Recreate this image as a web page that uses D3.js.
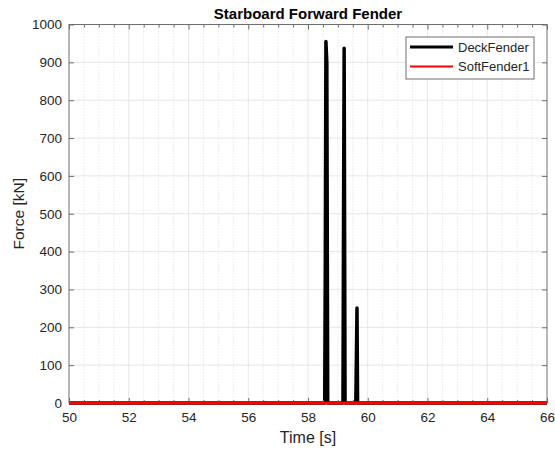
<!DOCTYPE html>
<html>
<head>
<meta charset="utf-8">
<script src="https://cdn.jsdelivr.net/npm/d3@7"></script>
<style>
  html, body { margin: 0; padding: 0; background: #fff; }
  svg { display: block; font-family: "Liberation Sans", Arial, Helvetica, sans-serif; }
</style>
</head>
<body>
<svg id="chart" width="555" height="451"></svg>
<script>
// Fender contact force traces
const deckTime  = [50, 58.56, 58.58, 58.60, 58.63, 58.66, 59.17, 59.19, 59.21, 59.24, 59.60, 59.62, 59.64, 59.66, 66];
const deckForce = [0,  0,     380,   955,   900,   0,     0,     500,   937,   0,     0,     120,   251,   0,     0];
const softTime  = [50, 66];
const softForce = [0, 0];

const xMajorTicks = [50, 52, 54, 56, 58, 60, 62, 64, 66];
const xMinorTicks = d3.range(50, 66.01, 0.5);
const yTicks = [0, 100, 200, 300, 400, 500, 600, 700, 800, 900, 1000];

const seriesNames = ["DeckFender", "SoftFender1"];
const seriesColors = ["#000000", "#ff0000"];

const W = 555, H = 451;
const m = { left: 69, right: 8, top: 24.5, bottom: 48 };
const iw = W - m.left - m.right, ih = H - m.top - m.bottom;

const svg = d3.select("#chart");
const g = svg.append("g").attr("transform", `translate(${m.left},${m.top})`);

const x = d3.scaleLinear().domain([50, 66]).range([0, iw]);
const y = d3.scaleLinear().domain([0, 1000]).range([ih, 0]);

const minorOnly = xMinorTicks.filter(t => !xMajorTicks.includes(t));

// grid: dotted minor lines every 0.5 s, solid major lines
g.append("g").selectAll("line").data(minorOnly)
  .join("line")
  .attr("x1", d => x(d)).attr("x2", d => x(d)).attr("y1", 0).attr("y2", ih)
  .attr("stroke", "#dcdcdc").attr("stroke-width", 1).attr("stroke-dasharray", "1,2");
g.append("g").selectAll("line").data(xMajorTicks.slice(1, -1))
  .join("line")
  .attr("x1", d => x(d)).attr("x2", d => x(d)).attr("y1", 0).attr("y2", ih)
  .attr("stroke", "#e6e6e6").attr("stroke-width", 1);
g.append("g").selectAll("line").data(yTicks.slice(1, -1))
  .join("line")
  .attr("x1", 0).attr("x2", iw).attr("y1", d => y(d)).attr("y2", d => y(d))
  .attr("stroke", "#e6e6e6").attr("stroke-width", 1);

// data lines
const line = d3.line().x(d => x(d[0])).y(d => y(d[1]));
g.append("path")
  .datum(deckTime.map((t, i) => [t, deckForce[i]]))
  .attr("d", line).attr("fill", "none")
  .attr("stroke", seriesColors[0]).attr("stroke-width", 3.5)
  .attr("stroke-linejoin", "round");

// axes with inward ticks
const axisColor = "#6e6e6e";
const labelColor = "#262626";
function styleAxis(sel) {
  sel.select(".domain").remove();
  sel.selectAll(".tick line").attr("stroke", axisColor);
  sel.selectAll(".tick text").attr("fill", labelColor).attr("font-size", "13.5px");
}
g.append("g").attr("transform", `translate(0,${ih})`)
  .call(d3.axisBottom(x).tickValues(xMajorTicks).tickFormat(d3.format("d")).tickSize(-5).tickPadding(9))
  .call(styleAxis);
g.append("g")
  .call(d3.axisTop(x).tickValues(xMajorTicks).tickFormat("").tickSize(-5))
  .call(styleAxis);
g.append("g").attr("transform", `translate(0,${ih})`)
  .call(d3.axisBottom(x).tickValues(minorOnly).tickFormat("").tickSize(-3))
  .call(styleAxis);
g.append("g")
  .call(d3.axisTop(x).tickValues(minorOnly).tickFormat("").tickSize(-3))
  .call(styleAxis);
g.append("g")
  .call(d3.axisLeft(y).tickValues(yTicks).tickFormat(d3.format("d")).tickSize(-5).tickPadding(7))
  .call(styleAxis);
g.append("g").attr("transform", `translate(${iw},0)`)
  .call(d3.axisRight(y).tickValues(yTicks).tickFormat("").tickSize(-5))
  .call(styleAxis);

// plot box
g.append("rect").attr("x", 0).attr("y", 0).attr("width", iw).attr("height", ih)
  .attr("fill", "none").attr("stroke", axisColor).attr("stroke-width", 1);

// red trace sits over the bottom edge
g.append("path")
  .datum(softTime.map((t, i) => [t, softForce[i]]))
  .attr("d", line).attr("fill", "none")
  .attr("stroke", seriesColors[1]).attr("stroke-width", 2.8);

// title and axis labels
svg.append("text").attr("x", m.left + iw / 2).attr("y", 19)
  .attr("text-anchor", "middle").attr("font-weight", "bold").attr("font-size", "15px")
  .attr("fill", "#000").text("Starboard Forward Fender");
svg.append("text").attr("x", m.left + iw / 2).attr("y", 443)
  .attr("text-anchor", "middle").attr("font-size", "16px").attr("fill", labelColor)
  .text("Time [s]");
svg.append("text")
  .attr("transform", `translate(24,${m.top + ih / 2}) rotate(-90)`)
  .attr("text-anchor", "middle").attr("font-size", "15.5px").attr("fill", labelColor)
  .text("Force [kN]");

// legend
const lg = svg.append("g").attr("transform", "translate(406,37)");
lg.append("rect").attr("x", 0).attr("y", 0).attr("width", 128).attr("height", 42)
  .attr("fill", "#fff").attr("stroke", axisColor).attr("stroke-width", 1);
seriesNames.forEach((name, i) => {
  const yy = 10 + i * 19.5;
  lg.append("line").attr("x1", 4).attr("x2", 47).attr("y1", yy).attr("y2", yy)
    .attr("stroke", seriesColors[i]).attr("stroke-width", i === 0 ? 3 : 2);
  lg.append("text").attr("x", 52).attr("y", yy).attr("dy", "0.35em")
    .attr("font-size", "13px").attr("fill", labelColor).text(name);
});
</script>
</body>
</html>
